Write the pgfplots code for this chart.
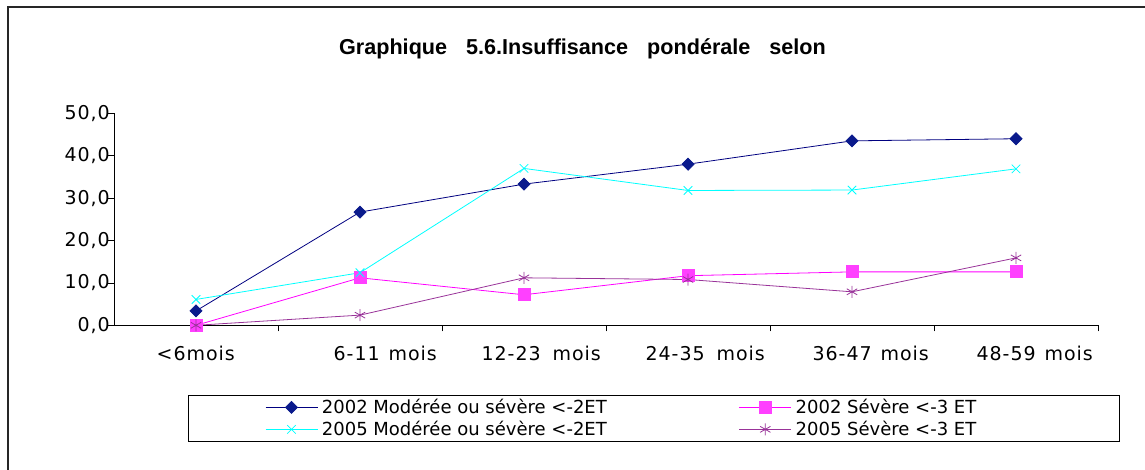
\documentclass[border=0pt]{standalone}
\usepackage{pgfplots}
\pgfplotsset{compat=1.18}
\usepackage{fontspec}
\setmainfont{DejaVu Sans}
\newfontfamily\tickfont[LetterSpace=5]{DejaVu Sans}
\newfontfamily\titlefont{Liberation Sans}
\definecolor{c1}{RGB}{0,0,128}
\definecolor{c1m}{RGB}{10,26,140}
\definecolor{c2}{RGB}{255,0,255}
\definecolor{c2m}{RGB}{255,64,255}
\definecolor{c3}{RGB}{0,255,255}
\definecolor{c4}{RGB}{153,51,153}

\begin{document}
\begin{tikzpicture}
\draw[black!85, line width=2pt] (7.5pt,-10pt) -- (7.5pt,461.5pt) -- (1160pt,461.5pt);
\begin{axis}[
  at={(114pt,143.7pt)}, anchor=south west,
  scale only axis, width=984pt, height=212pt,
  xmin=-0.5, xmax=5.5, ymin=0, ymax=50,
  clip=false,
  axis lines=left,
  axis line style={-, line width=1pt, black},
  xtick={0.5,1.5,2.5,3.5,4.5,5.5},
  xticklabels={{<6mois\rule{38pt}{0pt}},{6-11\hspace{9pt}mois},{12-23\hspace{12pt}mois},{24-35\hspace{12pt}mois},{36-47\hspace{9pt}mois},{48-59\hspace{9pt}mois}},
  ytick={0,10,...,50},
  tick align=outside, major tick length=6pt,
  tick style={black, line width=0.8pt},
  ticklabel style={font=\tickfont\fontsize{19}{22}\selectfont},
  xticklabel style={anchor=base east, xshift=-5pt, yshift=-29.5pt, inner sep=0pt},
  yticklabel style={anchor=east, inner sep=0pt, xshift=2pt,
    /pgf/number format/fixed, /pgf/number format/fixed zerofill,
    /pgf/number format/precision=1, /pgf/number format/use comma,
    /pgf/number format/assume math mode=true},
  title={Graphique\hspace{19pt}5.6.Insuffisance\hspace{19pt}pondérale\hspace{19pt}selon},
  title style={at={(0.4761,1.2514)}, anchor=base, inner sep=0pt,
    font=\titlefont\bfseries\fontsize{21.6}{24}\selectfont},
  legend columns=2,
  legend cell align=left,
  legend style={at={(0.0749,-0.330)}, anchor=north west,
    draw=black, line width=0.8pt, inner xsep=77pt, inner ysep=0.7pt,
    column sep=4pt, row sep=0pt,
    font=\fontsize{18}{20}\selectfont,
    nodes={inner sep=0pt, text height=17.6pt, text depth=4.4pt}},
  legend image code/.code={\draw[mark repeat=2, mark phase=2, #1] plot coordinates {(0pt,0pt)(26pt,0pt)(52pt,0pt)};},
]
\addplot[c1, line width=0.8pt, mark=square*, mark size=4.25pt, mark options={rotate=45, fill=c1m, draw=c1m}]
  coordinates {(0,3.4) (1,26.7) (2,33.3) (3,38.0) (4,43.5) (5,44.0)};
\addlegendentry{\makebox[413pt][l]{2002 Modérée ou sévère <-2ET}}
\addplot[c2, line width=0.8pt, mark=square*, mark size=6pt, mark options={fill=c2m, draw=c2m}]
  coordinates {(0,0) (1,11.2) (2,7.2) (3,11.7) (4,12.6) (5,12.6)};
\addlegendentry{\makebox[246.7pt][l]{2002 Sévère <-3 ET}}
\addplot[c3, line width=0.8pt, mark=x, mark size=6pt, mark options={c3, line width=0.8pt}]
  coordinates {(0,6.1) (1,12.4) (2,37.0) (3,31.8) (4,31.9) (5,36.9)};
\addlegendentry{\makebox[413pt][l]{2005 Modérée ou sévère <-2ET}}
\addplot[c4, line width=0.8pt, mark=asterisk, mark size=6pt, mark options={c4, line width=0.8pt}]
  coordinates {(0,0) (1,2.4) (2,11.2) (3,10.8) (4,7.9) (5,15.9)};
\addlegendentry{\makebox[246.7pt][l]{2005 Sévère <-3 ET}}
\end{axis}
\pgfresetboundingbox
\useasboundingbox (0,0) rectangle (1145pt,469pt);
\end{tikzpicture}
\end{document}
